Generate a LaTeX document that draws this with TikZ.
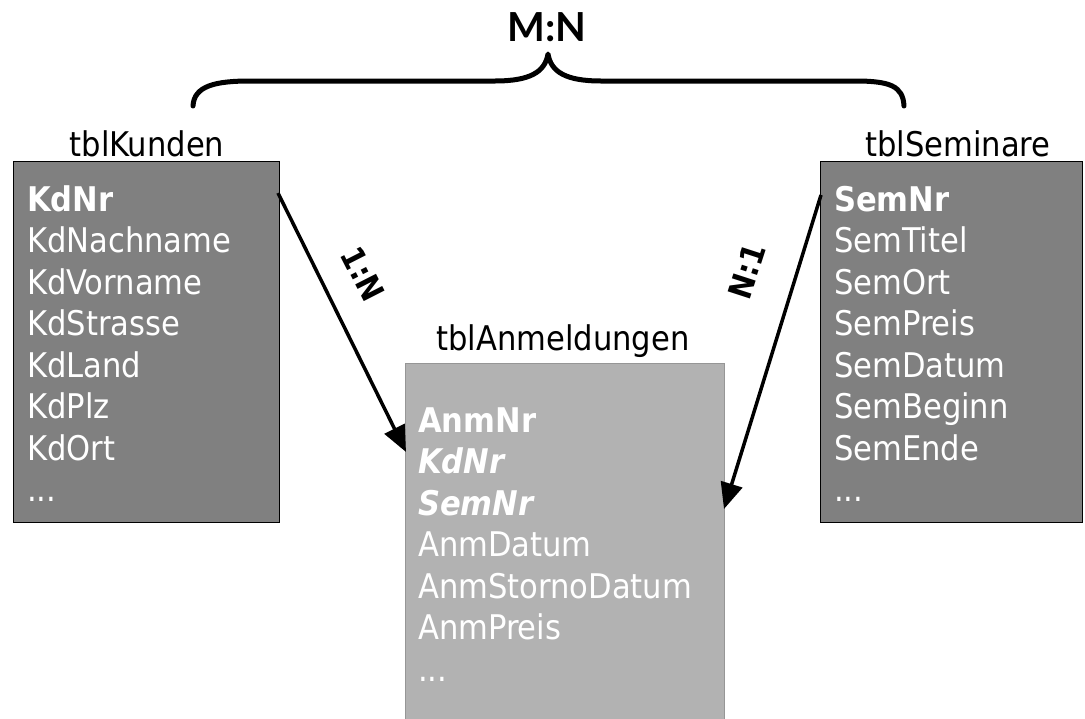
\documentclass[tikz,border=0pt]{standalone}
\usepackage{fontspec}
\setmainfont{DejaVu Sans Condensed}
\newfontfamily\bracefont{Lato}
\usetikzlibrary{arrows.meta}
\definecolor{tabdark}{RGB}{128,128,128}
\definecolor{tablight}{RGB}{178,178,178}
\definecolor{tablightedge}{RGB}{150,150,150}
\newcommand\morefields{...}
\tikzset{
  darktab/.style={draw=black, line width=1pt, fill=tabdark, anchor=north west, inner sep=0pt},
  lighttab/.style={draw=tablightedge, line width=1pt, fill=tablight, anchor=north west, inner sep=0pt},
  tabname/.style={anchor=base, inner sep=0pt, font=\fontsize{34}{40}\selectfont, text=black},
  field/.style={anchor=base west, inner sep=0pt, font=\fontsize{34}{40}\selectfont, text=white},
  rel/.style={line width=3.5pt, -{Triangle[length=26pt,width=22pt]}},
  card/.style={inner sep=0pt, font=\fontsize{32}{40}\selectfont\bfseries, text=black},
}
\begin{document}
\begin{tikzpicture}[x=1pt,y=-1pt]
\useasboundingbox[fill=white] (0,0) rectangle (1085,718);

% tables
\node[darktab, minimum width=266pt, minimum height=361pt] (kunden) at (13,161) {};
\node[darktab, minimum width=262pt, minimum height=361pt] (seminare) at (820,161) {};
\node[lighttab, minimum width=319pt, minimum height=358pt] (anm) at (405,363) {};

% table titles
\node[tabname] (tk) at (147,156) {tblKunden};
\node[tabname] (ts) at (958,156) {tblSeminare};
\node[tabname] (ta) at (563,350) {tblAnmeldungen};

% fields of tblKunden
\foreach [count=\i] \t in {{\bfseries KdNr}, KdNachname, KdVorname, KdStrasse, KdLand, KdPlz, KdOrt, \morefields}
  \node[field] (kf\i) at (27,{211+41.5*(\i-1)}) {\t};

% fields of tblSeminare
\foreach [count=\i] \t in {{\bfseries SemNr}, SemTitel, SemOrt, SemPreis, SemDatum, SemBeginn, SemEnde, \morefields}
  \node[field] (sf\i) at (834,{211+41.5*(\i-1)}) {\t};

% fields of tblAnmeldungen
\foreach [count=\i] \t in {{\bfseries AnmNr}, {\bfseries\itshape KdNr}, {\bfseries\itshape SemNr}, AnmDatum, AnmStornoDatum, AnmPreis, \morefields}
  \node[field] (af\i) at (418,{432+41.5*(\i-1)}) {\t};

% relationships
\coordinate (k-out) at (278,193);
\coordinate (a-in1) at (406,452);
\coordinate (s-out) at (821,195);
\coordinate (a-in2) at (724,509);
\draw[rel] (k-out) -- (a-in1);
\draw[rel] (s-out) -- (a-in2);
\node[card, rotate=-63] (c1) at (363,274) {1:N};
\node[card, rotate=72] (c2) at (747,271) {N:1};

% M:N brace
\coordinate (bl) at (193,106);
\coordinate (br) at (904,106);
\coordinate (bt) at (548,54);
\draw[line width=5pt, line cap=round, line join=round]
  (bl) .. controls (194,86) and (215,81) .. (250,81) -- (495,81)
  .. controls (530,81) and (545,72) .. (bt)
  .. controls (551,72) and (566,81) .. (601,81) -- (855,81)
  .. controls (890,81) and (903,86) .. (br);
\node[inner sep=0pt, font=\bracefont\bfseries\fontsize{40}{46}\selectfont] (mn) at (547,27) {M:N};
\end{tikzpicture}
\end{document}
